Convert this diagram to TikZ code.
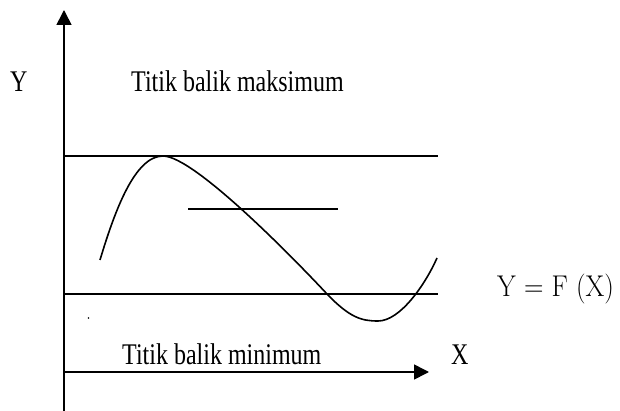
\documentclass[tikz,border=0pt]{standalone}
\usepackage{fontspec}
\setmainfont{Liberation Serif}
\newfontfamily\lmfont{Latin Modern Roman}
\usetikzlibrary{arrows.meta}
\tikzset{
  ln/.style={line width=1.6pt},
  axis/.style={ln,-{Triangle[length=15pt,width=15pt]}},
  lbl/.style={inner sep=0pt,anchor=base west,font=\fontsize{30}{32}\selectfont},
}
\begin{document}
\begin{tikzpicture}[x=1pt,y=-1pt]
\useasboundingbox (0,0) rectangle (620,411);
% axes
\coordinate (ybot) at (64,411);
\coordinate (ytop) at (64,10);
\coordinate (xl) at (63,372);
\coordinate (xr) at (429,372);
\draw[axis] (ybot) -- (ytop);
\draw[axis] (xl) -- (xr);
% horizontal lines
\coordinate (t1) at (63,156); \coordinate (t2) at (438,156);
\coordinate (b1) at (63,294); \coordinate (b2) at (438,294);
\coordinate (m1) at (188,209); \coordinate (m2) at (338,209);
\draw[ln] (t1) -- (t2);
\draw[ln] (b1) -- (b2);
\draw[ln] (m1) -- (m2);
% curve
\coordinate (c0) at (100,260);
\coordinate (cmax) at (163,156);
\coordinate (cx) at (327,294);
\coordinate (cmin) at (378,321);
\coordinate (cend) at (437,258);
\draw[ln] (c0) .. controls (115,210) and (135,156) .. (cmax)
  .. controls (195,156) and (300,265) .. (cx)
  .. controls (350,318) and (362,321) .. (cmin)
  .. controls (400,321) and (425,285) .. (cend);
% tiny dot
\fill (88.5,318) circle (0.9pt);
% labels
\node[lbl] (ylab) at (10,92) {\scalebox{0.8}[1]{Y}};
\node[lbl] (tmax) at (131,92) {\scalebox{0.8}[1]{Titik balik maksimum}};
\node[lbl] (tmin) at (122,364) {\scalebox{0.8}[1]{Titik balik minimum}};
\node[lbl] (xlab) at (451,364) {\scalebox{0.8}[1]{X}};
\node[lbl,font=\lmfont\fontsize{30}{32}\selectfont] (fx) at (497,296) {\scalebox{0.9}[1]{Y = F (X)}};
\end{tikzpicture}
\end{document}
